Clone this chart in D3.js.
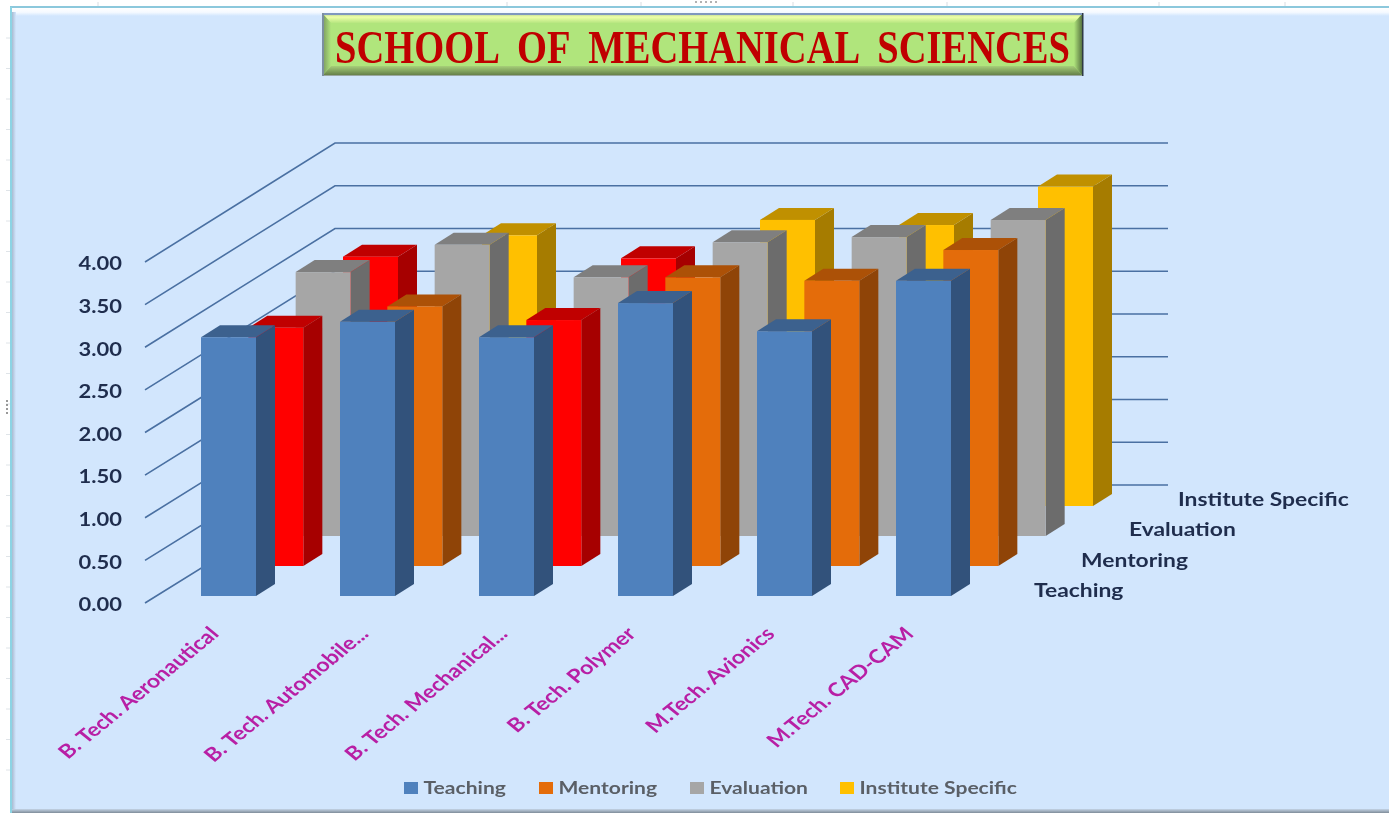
<!DOCTYPE html>
<html>
<head>
<meta charset="utf-8">
<script src="https://cdn.jsdelivr.net/npm/d3@7"></script>
<style>
html, body { margin: 0; padding: 0; background: #fff; }
svg { display: block; filter: blur(0.45px); }
text { font-family: Lato, "Open Sans", sans-serif; font-weight: 700; white-space: pre; }
</style>
</head>
<body>
<svg width="1389" height="813"></svg>
<script>
var titleText = "SCHOOL  OF  MECHANICAL  SCIENCES";
var categories = ["B. Tech. Aeronautical", "B. Tech. Automobile...", "B. Tech. Mechanical...", "B. Tech. Polymer", "M.Tech. Avionics", "M.Tech. CAD-CAM"];
var seriesNames = ["Teaching", "Mentoring", "Evaluation", "Institute Specific"];
var teaching = [3.03, 3.21, 3.03, 3.43, 3.10, 3.69];
var mentoring = [2.79, 3.04, 2.88, 3.38, 3.34, 3.70];
var evaluation = [3.09, 3.41, 3.03, 3.44, 3.50, 3.70];
var institute = [2.92, 3.17, 2.90, 3.35, 3.29, 3.74];
var tickValues = [0, 0.5, 1, 1.5, 2, 2.5, 3, 3.5, 4];

var seriesValues = [teaching, mentoring, evaluation, institute];

var svg = d3.select("svg");

// colours: front, side, top
var shades = {
    "Teaching": ["#4f81bd", "#32527b", "#3c618e"],
    "Mentoring": ["#e46c0a", "#8f4407", "#ac5107"],
    "Evaluation": ["#a6a6a6", "#6c6c6c", "#7f7f7f"],
    "Institute Specific": ["#ffc000", "#a67c00", "#c09000"]
};
var lowShades = ["#ff0000", "#a60000", "#c00000"]; // anything under 3 goes red

// scales
var scX = d3.scalePoint().domain(categories).range([201, 896]);
var scDepthX = d3.scalePoint().domain(seriesNames).range([0, 142]);
var scBase = d3.scalePoint().domain(seriesNames).range([596, 506]);
var scHeight = d3.scaleLinear().domain([0, 4]).range([0, 341.6]);
var scBack = d3.scaleLinear().domain([0, 4]).range([485, 143]);
var scFront = d3.scaleLinear().domain([0, 4]).range([603, 262]);
var barWidth = 55, sideX = 19, sideY = 12;

// gradients for frame and title plate
var defs = svg.append("defs");
var makeGradient = function(id, vertical, stops){
    var g = defs.append("linearGradient").attr("id", id)
        .attr("x1", 0).attr("y1", 0)
        .attr("x2", vertical ? 0 : 1).attr("y2", vertical ? 1 : 0);
    stops.forEach(function(s){
        g.append("stop").attr("offset", s[0]).attr("stop-color", s[1]);
    });
}
makeGradient("topBand", true, [[0, "#ffffff"], [0.55, "#f4f9ff"], [1, "#d2e6fd"]]);
makeGradient("leftBand", false, [[0, "#9fb0c6"], [1, "#d2e6fd"]]);
makeGradient("bottomBand", true, [[0, "#c4d4e6"], [1, "#7f8c99"]]);
makeGradient("bevelTop", true, [[0, "#a9c98a"], [0.4, "#eeffa8"], [1, "#b6e680"]]);
makeGradient("bevelBottom", true, [[0, "#a6cf78"], [1, "#5f7845"]]);
makeGradient("bevelLeft", false, [[0, "#76945c"], [1, "#b0e57c"]]);
makeGradient("bevelRight", false, [[0, "#b0e57c"], [1, "#4e673a"]]);

// page frame
svg.append("rect").attr("width", 1389).attr("height", 813).attr("fill", "#fff");
svg.append("rect").attr("x", 11).attr("y", 8).attr("width", 1378).attr("height", 802).attr("fill", "#d2e6fd");
svg.append("rect").attr("x", 11).attr("y", 8).attr("width", 1378).attr("height", 8).attr("fill", "url(#topBand)");
svg.append("rect").attr("x", 11).attr("y", 12).attr("width", 5).attr("height", 798).attr("fill", "url(#leftBand)");
svg.append("rect").attr("x", 11).attr("y", 809).attr("width", 1378).attr("height", 4).attr("fill", "url(#bottomBand)");
svg.append("line").attr("x1", 10).attr("x2", 1389).attr("y1", 7).attr("y2", 7).attr("stroke", "#8cc8dc").attr("stroke-width", 2);
svg.append("line").attr("x1", 11).attr("x2", 11).attr("y1", 7).attr("y2", 813).attr("stroke", "#8cd4e4").attr("stroke-width", 2);

// faint ruler marks
svg.append("g").selectAll("line").data([98, 507, 641, 793, 947, 1159, 1285]).enter().append("line")
    .attr("x1", d => d).attr("x2", d => d).attr("y1", 2).attr("y2", 6).attr("stroke", "#d8dde2");
svg.append("g").selectAll("line").data(d3.range(38, 800, 30.5)).enter().append("line")
    .attr("x1", 6).attr("x2", 10).attr("y1", d => d).attr("y2", d => d).attr("stroke", "#dfe4e8");
svg.append("g").selectAll("circle").data([401, 405, 409, 413]).enter().append("circle")
    .attr("cx", 7).attr("cy", d => d).attr("r", 1).attr("fill", "#777");
svg.append("g").selectAll("circle").data([696, 701, 706, 711, 716]).enter().append("circle")
    .attr("cx", d => d).attr("cy", 2).attr("r", 1).attr("fill", "#999");

// title plate
var plate = svg.append("g");
var tp = {x0: 322, x1: 1083, y0: 13, y1: 76, bx: 9, by: 10};
var platePoly = function(points, fill){
    plate.append("polygon").attr("points", points.map(p => p.join(",")).join(" ")).attr("fill", fill);
}
plate.append("rect").attr("x", tp.x0).attr("y", tp.y0).attr("width", tp.x1 - tp.x0).attr("height", tp.y1 - tp.y0).attr("fill", "#b0e57c");
platePoly([[tp.x0, tp.y0], [tp.x1, tp.y0], [tp.x1 - tp.bx, tp.y0 + tp.by], [tp.x0 + tp.bx, tp.y0 + tp.by]], "url(#bevelTop)");
platePoly([[tp.x0, tp.y1], [tp.x1, tp.y1], [tp.x1 - tp.bx, tp.y1 - tp.by], [tp.x0 + tp.bx, tp.y1 - tp.by]], "url(#bevelBottom)");
platePoly([[tp.x0, tp.y0], [tp.x0 + tp.bx, tp.y0 + tp.by], [tp.x0 + tp.bx, tp.y1 - tp.by], [tp.x0, tp.y1]], "url(#bevelLeft)");
platePoly([[tp.x1, tp.y0], [tp.x1 - tp.bx, tp.y0 + tp.by], [tp.x1 - tp.bx, tp.y1 - tp.by], [tp.x1, tp.y1]], "url(#bevelRight)");
plate.append("rect").attr("x", tp.x0).attr("y", tp.y0).attr("width", tp.x1 - tp.x0).attr("height", 2).attr("fill", "#7f97be");
plate.append("rect").attr("x", tp.x0).attr("y", tp.y1 - 1).attr("width", tp.x1 - tp.x0).attr("height", 1).attr("fill", "#9aa7a0");
plate.append("rect").attr("x", tp.x0).attr("y", tp.y0).attr("width", 2).attr("height", tp.y1 - tp.y0).attr("fill", "#7c8fa0");
plate.append("rect").attr("x", tp.x1 - 1).attr("y", tp.y0).attr("width", 1.5).attr("height", tp.y1 - tp.y0).attr("fill", "#2f3a44");
plate.append("text")
    .attr("x", 335).attr("y", 63)
    .attr("textLength", 735).attr("lengthAdjust", "spacingAndGlyphs")
    .attr("fill", "#c00000")
    .style("font-family", "'Liberation Serif', serif")
    .style("font-size", "47px")
    .text(titleText);

// grid lines: front-left ends up to back wall and across
var gridG = svg.append("g");
gridG.selectAll("path").data(tickValues).enter().append("path")
    .attr("fill", "none")
    .attr("stroke", "#4a70a2")
    .attr("stroke-width", 1.6)
    .attr("d", d => d3.line()([[145, scFront(d)], [335, scBack(d)], [1168, scBack(d)]]));

// value axis labels
var axisG = svg.append("g").attr("transform", "translate(122,2)")
    .call(d3.axisLeft(scFront).tickValues(tickValues).tickFormat(d3.format(".2f")).tickSize(0).tickPadding(0));
axisG.select(".domain").remove();
axisG.selectAll("text")
    .attr("x", 0)
    .attr("fill", "#1f2d4d")
    .attr("transform", "scale(1.22,1)")
    .style("font-family", "Lato, sans-serif")
    .style("font-size", "18px")
    .style("font-weight", 700);

// bars, back row first
var drawBar = function(g, name, cat, v){
    var x = scX(cat) + scDepthX(name);
    var base = scBase(name);
    var top = base - scHeight(v);
    var c = v < 3 ? lowShades : shades[name];
    var poly = function(points, fill){
        g.append("polygon").attr("points", points.map(p => p.join(",")).join(" ")).attr("fill", fill);
    }
    poly([[x + barWidth, top], [x + barWidth + sideX, top - sideY], [x + barWidth + sideX, base - sideY], [x + barWidth, base]], c[1]);
    poly([[x, top], [x + sideX, top - sideY], [x + barWidth + sideX, top - sideY], [x + barWidth, top]], c[2]);
    g.append("rect").attr("x", x).attr("y", top).attr("width", barWidth).attr("height", base - top).attr("fill", c[0]);
}
var barsG = svg.append("g");
d3.range(seriesNames.length - 1, -1, -1).forEach(function(i){
    var g = barsG.append("g");
    categories.forEach(function(cat, j){
        drawBar(g, seriesNames[i], cat, seriesValues[i][j]);
    });
});

// series axis labels along the depth
var scSeriesLabelX = d3.scaleOrdinal().domain(seriesNames).range([1034, 1081, 1129, 1178]);
var scSeriesLabelY = d3.scalePoint().domain(seriesNames).range([597, 506]);
svg.append("g").selectAll("text").data(seriesNames).enter().append("text")
    .attr("transform", d => "translate(" + scSeriesLabelX(d) + "," + scSeriesLabelY(d) + ") scale(1.27,1)")
    .attr("fill", "#1f2d4d")
    .style("font-size", "18px")
    .text(d => d);

// category labels
svg.append("g").selectAll("text").data(categories).enter().append("text")
    .attr("transform", d => "translate(" + (scX(d) + (d.endsWith("...") ? 30 : 19)) + ",635) scale(1.22,1) rotate(-45)")
    .attr("text-anchor", "end")
    .attr("fill", "#b81fa5")
    .style("font-size", "19px")
    .text(d => d);

// legend
var scLegendSwatch = d3.scaleOrdinal().domain(seriesNames).range([404, 539, 690, 840]);
var legend = svg.append("g").selectAll("g").data(seriesNames).enter().append("g")
    .attr("transform", d => "translate(" + scLegendSwatch(d) + ",782)");
legend.append("rect").attr("width", 14).attr("height", 12).attr("fill", d => shades[d][0]);
legend.append("text")
    .attr("transform", "translate(19.5,12) scale(1.24,1)")
    .attr("fill", "#5a5f66")
    .style("font-size", "17px")
    .text(d => d);
</script>
</body>
</html>
